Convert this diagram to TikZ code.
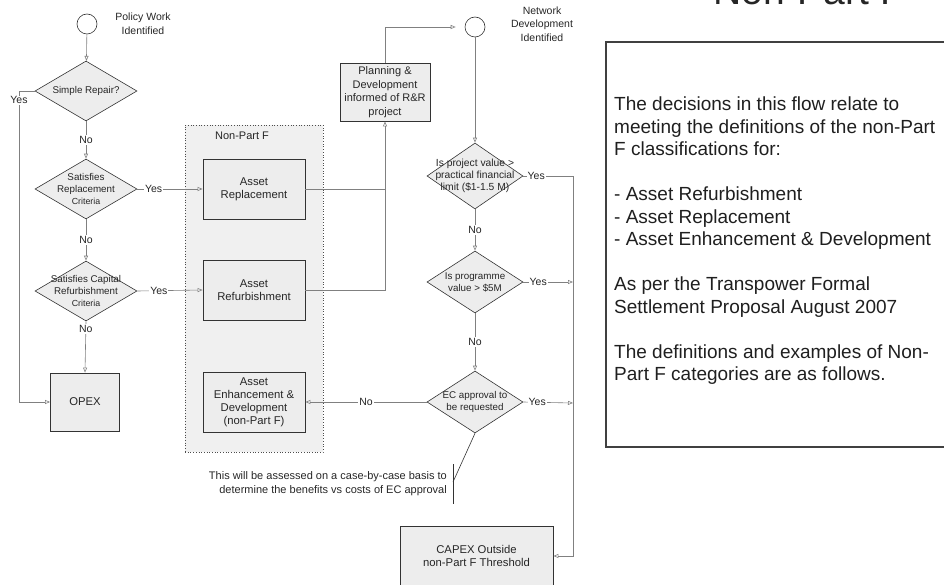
\documentclass[tikz,border=0pt]{standalone}
\usepackage{fontspec}
\setmainfont{Liberation Sans}
\usetikzlibrary{arrows.meta,shapes.geometric}
\tikzset{
  conn/.style={draw=black!50, line width=0.6pt},
  arr/.style={conn, -{Triangle[open,length=5pt,width=4pt]}},
  lbl/.style={fill=white, inner sep=1pt, font=\fontsize{10.5}{12}\selectfont, text=black!85},
  boxnode/.style={rectangle, draw=black!80, fill=black!7, line width=0.8pt, align=center, inner sep=0pt,
    font=\fontsize{11.3}{13}\selectfont, text=black!85},
  dia/.style={diamond, draw=black!80, fill=black!7, line width=0.6pt, inner sep=0pt,
    minimum width=102pt, minimum height=60pt},
  dtext/.style={align=center, inner sep=0pt, font=\fontsize{9.8}{12}\selectfont, text=black!85},
  startc/.style={circle, draw=black!80, fill=white, line width=0.6pt, minimum size=20pt, inner sep=0pt},
  sidetext/.style={align=center, font=\fontsize{10.5}{13.5}\selectfont, text=black!85},
}
\begin{document}
\begin{tikzpicture}[x=1pt,y=-1pt]
\useasboundingbox (0,0) rectangle (944,585);

% title (cut off at top, as in the reference)
\node[anchor=base west, inner sep=0pt, font=\fontsize{39}{40}\selectfont, text=black!85] (title) at (713,5) {Non-Part F};

% container
\node[draw=black!70, dotted, line width=0.7pt, fill=black!6, minimum width=138pt, minimum height=327pt, inner sep=0pt] (npf) at (254,288.5) {};
\node[font=\fontsize{11}{13}\selectfont, text=black!85] (npflbl) at (242,136) {Non-Part F};

% left column
\node[startc] (c1) at (87,24) {};
\node[sidetext] (c1lbl) at (143,24) {Policy Work\\Identified};
\node[dia, label={[dtext]center:Simple Repair?}] (d1) at (86,91) {};
\node[dia, label={[dtext]center:Satisfies\\Replacement\\{\fontsize{8.8}{10}\selectfont Criteria}}] (d2) at (86,189) {};
\node[dia, label={[dtext]center:Satisfies Capital\\Refurbishment\\{\fontsize{8.8}{10}\selectfont Criteria}}] (d3) at (86,291) {};
\node[boxnode, minimum width=69pt, minimum height=58pt] (opex) at (85,402) {OPEX};

% non-part F boxes
\node[boxnode, minimum width=102pt, minimum height=60pt] (rep) at (254,189) {Asset\\Replacement};
\node[boxnode, minimum width=102pt, minimum height=60pt] (ref) at (254,290) {Asset\\Refurbishment};
\node[boxnode, minimum width=102pt, minimum height=60pt] (enh) at (254,402) {Asset\\Enhancement \&\\Development\\(non-Part F)};

% planning
\node[boxnode, minimum width=90pt, minimum height=58pt, font=\fontsize{11}{13.5}\selectfont] (plan) at (385,92) {Planning \&\\Development\\informed of R\&R\\project};

% right column
\node[startc] (c2) at (475,27) {};
\node[sidetext] (c2lbl) at (542,24) {Network\\Development\\Identified};
\node[dia, minimum width=96pt, minimum height=66pt,
  label={[dtext, font=\fontsize{10.3}{12}\selectfont]center:Is project value >\\practical financial\\limit (\$1-1.5 M)}] (d4) at (475,176) {};
\node[dia, minimum width=96pt, minimum height=62pt, label={[dtext]center:Is programme\\value > \$5M}] (d5) at (475,282) {};
\node[dia, minimum width=96pt, minimum height=62pt, label={[dtext]center:EC approval to\\be requested}] (d6) at (475,402) {};
\node[boxnode, minimum width=153pt, minimum height=60pt] (capex) at (476.5,556) {CAPEX Outside\\non-Part F Threshold};

% rail coordinates
\coordinate (r4) at (573,176);
\coordinate (r5) at (573,282);
\coordinate (r6) at (573,403);
\coordinate (rc) at (573,556);
\coordinate (yl) at (19,91);
\coordinate (yb) at (19,402);

% connectors left
\draw[arr] (c1) -- (d1);
\draw[arr] (d1.west) -- (yl) -- node[lbl, pos=0.03]{Yes} (yb) -- (opex.west);
\draw[arr] (d1.south) -- node[lbl]{No} (d2.north);
\draw[arr] (d2.east) -- node[lbl, pos=0.25]{Yes} (rep.west);
\draw[arr] (d2.south) -- node[lbl]{No} (d3.north);
\draw[arr] (d3.east) -- node[lbl, pos=0.33]{Yes} (ref.west);
\draw[arr] (d3.south) -- node[lbl, pos=0.15]{No} (opex.north);

% to planning
\draw[arr] (rep.east) -| (plan.south);
\draw[conn] (ref.east) -| (rep.east -| plan.south);
\draw[arr, shorten >=9pt] (plan.north) |- (c2.west);

% right column
\draw[arr] (c2) -- (d4);
\draw[arr] (d4.east) -- node[lbl, pos=0.26]{Yes} (r4) -- (rc) -- (capex.east);
\draw[arr] (d4.south) -- node[lbl]{No} (d5.north);
\draw[arr] (d5.east) -- node[lbl, pos=0.3]{Yes} (r5);
\draw[arr] (d5.south) -- node[lbl]{No} (d6.north);
\draw[arr] (d6.east) -- node[lbl, pos=0.28]{Yes} (r6);
\draw[arr] (d6.west) -- node[lbl]{No} (enh.east);

% comment
\coordinate (cm) at (453,482);
\coordinate (cmt) at (453,464);
\coordinate (cmb) at (453,504);
\draw[black!80, line width=0.6pt] (d6.south) -- (cm);
\draw[black!80, line width=0.6pt] (cmt) -- (cmb);
\node[anchor=east, align=right, inner sep=0pt, font=\fontsize{11}{14}\selectfont, text=black!85] (cmtext) at (447,484)
  {This will be assessed on a case-by-case basis to\\determine the benefits vs costs of EC approval};

% right text box
\coordinate (tb1) at (944,42);
\coordinate (tb2) at (606,42);
\coordinate (tb3) at (606,447);
\coordinate (tb4) at (944,447);
\draw[black!75, line width=1.2pt] (tb1) -- (tb2) -- (tb3) -- (tb4);
\node[anchor=north west, align=left, inner sep=0pt, font=\fontsize{19}{22.5}\selectfont, text=black!88] (desc) at (614,97)
  {The decisions in this flow relate to\\
   meeting the definitions of the non-Part\\
   F classifications for:\\[22.5pt]
   - Asset Refurbishment\\
   - Asset Replacement\\
   - Asset Enhancement \& Development\\[22.5pt]
   As per the Transpower Formal\\
   Settlement Proposal August 2007\\[22.5pt]
   The definitions and examples of Non-\\
   Part F categories are as follows.};
\end{tikzpicture}
\end{document}
